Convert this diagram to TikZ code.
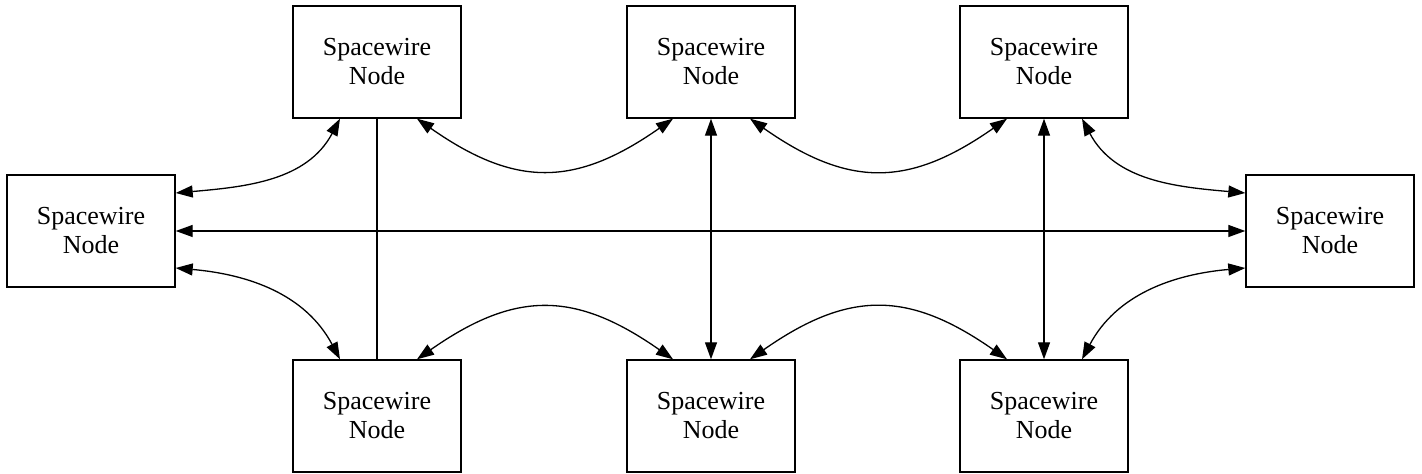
\documentclass[tikz,border=0pt]{standalone}
\usepackage{fontspec}
\setmainfont{Liberation Serif}
\usetikzlibrary{calc,arrows.meta}
\begin{document}
\begin{tikzpicture}[x=0.5pt,y=0.5pt,
  swnode/.style={draw,line width=0.7pt,minimum width=84pt,minimum height=56pt,inner sep=0pt,align=center,font=\fontsize{13}{14.5}\selectfont},
  link/.style={line width=0.65pt,{Triangle[length=8.5pt,width=6pt]}-{Triangle[length=8.5pt,width=6pt]}},
  plain/.style={line width=0.65pt}]
\useasboundingbox (0,0) rectangle (1422,474);
\node[swnode] (T1) at (377,412) {Spacewire\\Node};
\node[swnode] (T2) at (711,412) {Spacewire\\Node};
\node[swnode] (T3) at (1044,412) {Spacewire\\Node};
\node[swnode] (L) at (91,243) {Spacewire\\Node};
\node[swnode] (R) at (1330,243) {Spacewire\\Node};
\node[swnode] (B1) at (377,58) {Spacewire\\Node};
\node[swnode] (B2) at (711,58) {Spacewire\\Node};
\node[swnode] (B3) at (1044,58) {Spacewire\\Node};
% horizontal
\draw[link] (L.east) -- (R.west);
% left
\draw[link] ($(L.east)+(0,38)$) to[out=5,in=-118] ($(T1.south)+(-37,0)$);
\draw[link] ($(L.east)+(0,-37)$) to[out=-5,in=118] ($(B1.north)+(-37,0)$);
% vertical
\draw[plain] (T1.south) -- (B1.north);
\draw[link] (T2.south) -- (B2.north);
\draw[link] (T3.south) -- (B3.north);
% top curves
\draw[link] ($(T1.south)+(40,0)$) to[out=-35,in=-145,looseness=1.2] ($(T2.south)+(-38,0)$);
\draw[link] ($(T2.south)+(39,0)$) to[out=-35,in=-145,looseness=1.2] ($(T3.south)+(-37,0)$);
% bottom curves
\draw[link] ($(B1.north)+(40,0)$) to[out=35,in=145,looseness=1.2] ($(B2.north)+(-38,0)$);
\draw[link] ($(B2.north)+(39,0)$) to[out=35,in=145,looseness=1.2] ($(B3.north)+(-37,0)$);
% right
\draw[link] ($(T3.south)+(38,0)$) to[out=-62,in=175] ($(R.west)+(0,38)$);
\draw[link] ($(B3.north)+(38,0)$) to[out=62,in=-175] ($(R.west)+(0,-37)$);
\end{tikzpicture}
\end{document}
